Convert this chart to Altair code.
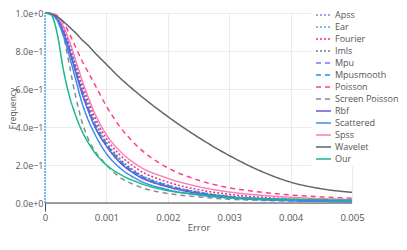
import altair as alt
import pandas as pd

errors = [0, 0.0001, 0.0002, 0.0003, 0.0004, 0.0005, 0.0006, 0.0007, 0.0008, 0.001,
          0.0012, 0.0015, 0.002, 0.0025, 0.003, 0.0035, 0.004, 0.0045, 0.005]

series_names = ["Apss", "Ear", "Fourier", "Imls", "Mpu", "Mpusmooth", "Poisson",
                "Screen Poisson", "Rbf", "Scattered", "Spss", "Wavelet", "Our"]

apss = [1, 0.997, 0.975, 0.91, 0.82, 0.71, 0.60, 0.51, 0.43, 0.315, 0.23, 0.155, 0.09, 0.055, 0.034, 0.022, 0.015, 0.011, 0.009]
ear = [1, 0.997, 0.97, 0.90, 0.80, 0.69, 0.58, 0.49, 0.41, 0.30, 0.22, 0.15, 0.088, 0.053, 0.032, 0.021, 0.014, 0.010, 0.008]
fourier = [1, 0.997, 0.975, 0.92, 0.83, 0.73, 0.63, 0.54, 0.46, 0.34, 0.26, 0.18, 0.11, 0.07, 0.046, 0.031, 0.021, 0.015, 0.012]
imls = [1, 0.997, 0.975, 0.91, 0.82, 0.72, 0.61, 0.52, 0.44, 0.32, 0.24, 0.16, 0.095, 0.058, 0.036, 0.024, 0.017, 0.012, 0.010]
mpu = [1, 0.997, 0.97, 0.905, 0.81, 0.70, 0.59, 0.50, 0.42, 0.31, 0.225, 0.15, 0.088, 0.052, 0.032, 0.021, 0.015, 0.011, 0.009]
mpusmooth = [1, 0.997, 0.97, 0.90, 0.80, 0.70, 0.59, 0.50, 0.42, 0.31, 0.23, 0.155, 0.092, 0.056, 0.034, 0.022, 0.015, 0.011, 0.009]
poisson = [1, 0.998, 0.985, 0.95, 0.89, 0.82, 0.75, 0.69, 0.63, 0.51, 0.41, 0.30, 0.185, 0.12, 0.08, 0.058, 0.042, 0.032, 0.025]
screen_poisson = [1, 0.995, 0.96, 0.88, 0.72, 0.56, 0.43, 0.34, 0.28, 0.20, 0.14, 0.09, 0.05, 0.032, 0.02, 0.014, 0.010, 0.008, 0.006]
rbf = [1, 0.997, 0.97, 0.90, 0.80, 0.69, 0.58, 0.49, 0.41, 0.30, 0.22, 0.145, 0.085, 0.05, 0.03, 0.02, 0.014, 0.010, 0.008]
scattered = [1, 0.995, 0.96, 0.88, 0.77, 0.65, 0.53, 0.44, 0.37, 0.26, 0.19, 0.125, 0.07, 0.042, 0.026, 0.017, 0.012, 0.009, 0.007]
spss = [1, 0.998, 0.98, 0.93, 0.85, 0.75, 0.65, 0.56, 0.48, 0.36, 0.28, 0.20, 0.13, 0.086, 0.058, 0.041, 0.03, 0.023, 0.018]
wavelet = [1, 0.995, 0.98, 0.955, 0.925, 0.895, 0.86, 0.83, 0.795, 0.73, 0.665, 0.58, 0.455, 0.345, 0.25, 0.17, 0.11, 0.075, 0.056]
our = [1, 0.99, 0.89, 0.70, 0.56, 0.46, 0.38, 0.32, 0.27, 0.20, 0.155, 0.11, 0.065, 0.045, 0.03, 0.024, 0.02, 0.017, 0.015]

colors = ["#8d7cf0", "#4fa6ee", "#e6307f", "#7a7a7a", "#8470ff", "#1e8fff", "#ff3e8f",
          "#8c8c8c", "#6a56d8", "#3b8ee8", "#f57fc0", "#5c6670", "#17b890"]
dashes = [[2, 2], [2, 2], [2, 2], [2, 2], [5, 4], [5, 4], [5, 4], [5, 4],
          [1, 0], [1, 0], [1, 0], [1, 0], [1, 0]]
widths = [1.5] * 12 + [3.2]

# vertical segment at zero error (Ear series)
vline_x = [0]
vline_y0 = [0]
vline_y1 = [1]

all_values = [apss, ear, fourier, imls, mpu, mpusmooth, poisson, screen_poisson,
              rbf, scattered, spss, wavelet, our]
rows = []
for i, (name, vals) in enumerate(zip(series_names, all_values)):
    for e, v in zip(errors, vals):
        rows.append({"Error": e, "Frequency": v, "Series": name})
df = pd.DataFrame(rows)

x_scale = alt.Scale(domain=[0, 0.005], nice=False)
y_scale = alt.Scale(domain=[0, 1], nice=False)

text_color = "#555"
FONT = "Open Sans"

x_axis = alt.Axis(values=[0, 0.001, 0.002, 0.003, 0.004, 0.005], format=".3~f",
                  grid=True, gridColor="#ebebeb", domain=False,
                  ticks=True, tickSize=8,
                  tickColor={"condition": {"test": "datum.value == 0", "value": "#444"}, "value": "transparent"},
                  labelPadding=1, labelFontSize=9.5, labelColor=text_color,
                  labelOverlap=False, labelFlush=False,
                  labelFont=FONT, titleFont=FONT, titleFontSize=9.5,
                  titleFontWeight="normal", titleColor=text_color,
                  titleY=24, titleBaseline="middle")

color_enc = alt.Color("Series:N", scale=alt.Scale(domain=series_names, range=colors), legend=None)
dash_enc = alt.StrokeDash("Series:N", scale=alt.Scale(domain=series_names, range=dashes), legend=None)
width_enc = alt.StrokeWidth("Series:N", scale=alt.Scale(domain=series_names, range=widths), legend=None)

lines = alt.Chart(df).mark_line(interpolate="monotone").encode(
    x=alt.X("Error:Q", scale=x_scale, title="Error", axis=x_axis),
    y=alt.Y("Frequency:Q", scale=y_scale, title="Frequency",
            axis=alt.Axis(values=[0, 0.2, 0.4, 0.6, 0.8, 1.0],
                          labelExpr="replace(format(datum.value, '.1e'), '-', '\u2212')",
                          grid=True, gridColor="#ebebeb", domain=False, ticks=False,
                          labelOverlap=False, labelFlush=False,
                          labelPadding=2, labelFontSize=9, labelColor=text_color,
                          labelFont=FONT, titleFont=FONT, titleFontSize=8.5,
                          titleFontWeight="normal", titleColor=text_color,
                          titleX=-36.5, titleY=95, titleAngle=270, titleAlign="center",
                          titleBaseline="top")),
    color=color_enc,
    strokeDash=dash_enc,
    strokeWidth=width_enc,
    detail="Series:N",
    order=alt.Order("Error:Q"),
)

vdf = pd.DataFrame({"x": vline_x, "y0": vline_y0, "y1": vline_y1})
vline = alt.Chart(vdf).mark_rule(color="#4fa6ee", strokeWidth=1.5, strokeDash=[2, 1]).encode(
    x=alt.X("x:Q", scale=x_scale, title="Error", axis=x_axis),
    y=alt.Y("y0:Q", scale=y_scale, axis=None),
    y2="y1:Q",
)

zdf = pd.DataFrame({"z": [0]})
zero = alt.Chart(zdf).mark_rule(color="#444", strokeWidth=1.2).encode(
    y=alt.Y("z:Q", scale=y_scale, axis=None),
)

# legend drawn from the series list
ldf = pd.DataFrame({"Series": series_names})
leg_y = alt.Y("Series:N", scale=alt.Scale(type="point", domain=series_names, range=[2, 146], padding=0),
              axis=None)

leg_bg = alt.Chart(zdf).mark_rect(color="white").encode(
    x=alt.value(266), x2=alt.value(360), y=alt.value(-9), y2=alt.value(153),
)
leg_sym = alt.Chart(ldf).mark_rule().encode(
    x=alt.value(271), x2=alt.value(286), y=leg_y,
    color=color_enc, strokeDash=dash_enc, strokeWidth=width_enc,
)
leg_txt = alt.Chart(ldf).mark_text(align="left", baseline="middle", font=FONT,
                                   fontSize=9, color=text_color).encode(
    x=alt.value(290), y=leg_y, text="Series:N",
)

chart = alt.layer(zero, vline, lines, leg_bg, leg_sym, leg_txt).resolve_scale(
    y="independent"
).properties(
    width=307, height=190,
    autosize=alt.AutoSizeParams(type="none"),
    padding={"left": 37, "top": 5, "right": 47, "bottom": 31},
).configure_view(stroke=None)

chart.save("out.html", embed_options={"renderer": "svg", "actions": False})
